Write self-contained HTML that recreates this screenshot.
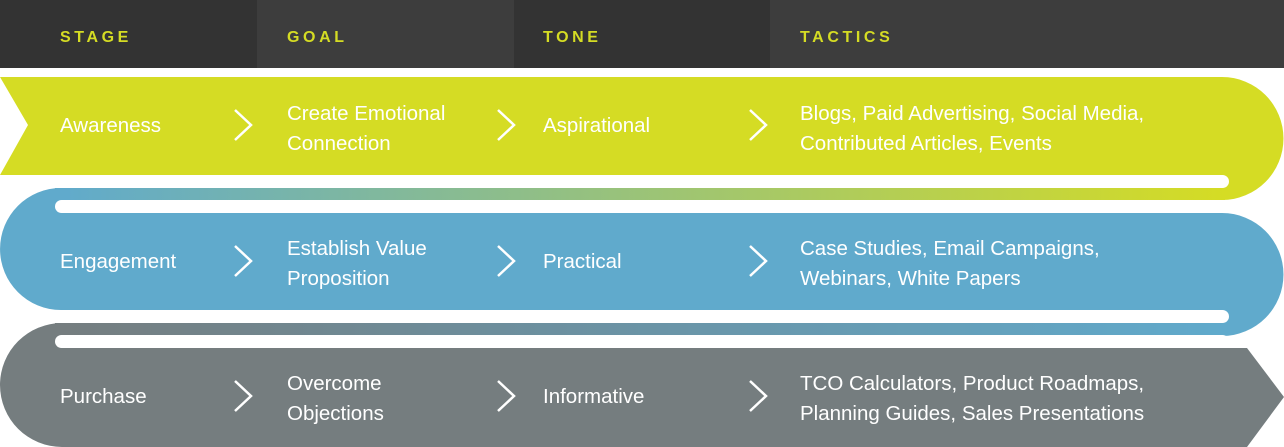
<!DOCTYPE html>
<html><head><meta charset="utf-8"><style>
html,body{margin:0;padding:0;background:#fff;}
svg{display:block;}
text{font-family:"Liberation Sans",sans-serif;}
.t{fill:#fff;font-size:20.5px;}
.h{fill:#d5dc24;font-size:16px;font-weight:bold;letter-spacing:3.6px;}
.c{fill:none;stroke:#fff;stroke-width:2.5;}
</style></head><body>
<svg width="1284" height="447" viewBox="0 0 1284 447" xmlns="http://www.w3.org/2000/svg">
<defs>
<linearGradient id="g1" x1="0" x2="1" y1="0" y2="0"><stop offset="0" stop-color="#60aacc"/><stop offset="1" stop-color="#d5dc24"/></linearGradient>
<linearGradient id="g2" x1="0" x2="1" y1="0" y2="0"><stop offset="0" stop-color="#757d7f"/><stop offset="1" stop-color="#60aacc"/></linearGradient>
</defs>
<rect x="0" y="0" width="257" height="68" fill="#333"/>
<rect x="257" y="0" width="257" height="68" fill="#3d3d3d"/>
<rect x="514" y="0" width="256" height="68" fill="#333"/>
<rect x="770" y="0" width="514" height="68" fill="#3d3d3d"/>
<text class="h" x="60" y="42">STAGE</text>
<text class="h" x="287" y="42">GOAL</text>
<text class="h" x="543" y="42">TONE</text>
<text class="h" x="800" y="42">TACTICS</text>

<rect x="55" y="188" width="1170" height="12" fill="url(#g1)"/>
<rect x="55" y="323" width="1170" height="12" fill="url(#g2)"/>

<path d="M0,77 H1222 A61.5,61.5 0 0 1 1222,200 V175 H0 L28,125 Z" fill="#d5dc24"/>
<path d="M61,188 H70 V213 H1222 A61.5,61.5 0 0 1 1222,336 V310 H61 A61,61 0 0 1 61,188 Z" fill="#60aacc"/>
<path d="M62,323 H70 V348 H1247 L1284,397 L1247,447 H62 A62,62 0 0 1 62,323 Z" fill="#757d7f"/>

<rect x="55" y="175" width="1174" height="13" rx="6.5" fill="#fff"/>
<rect x="55" y="200" width="1174" height="13" rx="6.5" fill="#fff"/>
<rect x="1222" y="200" width="62" height="13" fill="#fff"/>
<rect x="55" y="310" width="1174" height="13" rx="6.5" fill="#fff"/>
<rect x="55" y="335" width="1174" height="13" rx="6.5" fill="#fff"/>
<rect x="1222" y="336" width="62" height="12" fill="#fff"/>

<g>
<text class="t" x="60" y="132">Awareness</text>
<text class="t" x="287" y="120">Create Emotional</text>
<text class="t" x="287" y="150">Connection</text>
<text class="t" x="543" y="132">Aspirational</text>
<text class="t" x="800" y="120">Blogs, Paid Advertising, Social Media,</text>
<text class="t" x="800" y="150">Contributed Articles, Events</text>
<path class="c" d="M235,110 L251,125 L235,140 M498,110 L514,125 L498,140 M750,110 L766,125 L750,140"/>
</g>
<g>
<text class="t" x="60" y="268">Engagement</text>
<text class="t" x="287" y="255">Establish Value</text>
<text class="t" x="287" y="285">Proposition</text>
<text class="t" x="543" y="268">Practical</text>
<text class="t" x="800" y="255">Case Studies, Email Campaigns,</text>
<text class="t" x="800" y="285">Webinars, White Papers</text>
<path class="c" d="M235,246 L251,261 L235,276 M498,246 L514,261 L498,276 M750,246 L766,261 L750,276"/>
</g>
<g>
<text class="t" x="60" y="403">Purchase</text>
<text class="t" x="287" y="390">Overcome</text>
<text class="t" x="287" y="420">Objections</text>
<text class="t" x="543" y="403">Informative</text>
<text class="t" x="800" y="390">TCO Calculators, Product Roadmaps,</text>
<text class="t" x="800" y="420">Planning Guides, Sales Presentations</text>
<path class="c" d="M235,381 L251,396 L235,411 M498,381 L514,396 L498,411 M750,381 L766,396 L750,411"/>
</g>
</svg>
</body></html>
